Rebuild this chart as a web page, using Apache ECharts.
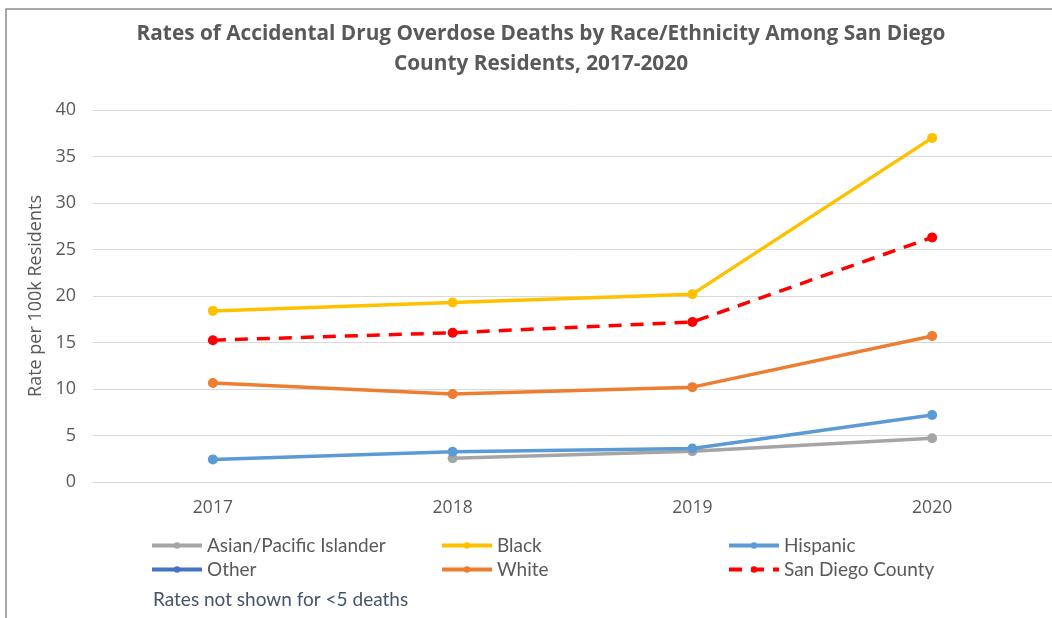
<!DOCTYPE html>
<html><head><meta charset="utf-8">
<script src="https://cdn.jsdelivr.net/npm/echarts@6/dist/echarts.min.js"></script>
<style>html,body{margin:0;padding:0;background:#fff}#c{width:1052px;height:618px}</style>
</head><body><div id="c"></div>
<script>
const years = ['2017','2018','2019','2020'];
const asian = [null, 2.55, 3.3, 4.7];
const black = [18.4, 19.3, 20.2, 37.0];
const hispanic = [2.43, 3.25, 3.6, 7.2];
const other = [null, null, null, null];
const white = [10.65, 9.45, 10.2, 15.7];
const sdCounty = [15.25, 16.05, 17.2, 26.3];
const yTicks = {min: 0, max: 40, interval: 5};

const chart = echarts.init(document.getElementById('c'));
function ser(name, data, color, dashed) {
  return {
    name, type: 'line', data, connectNulls: false,
    symbol: 'circle', symbolSize: 10,
    itemStyle: {color},
    lineStyle: {color, width: 3.5, type: dashed ? [13, 9] : 'solid'},
    emphasis: {disabled: true}
  };
}
const legText = {fontFamily: 'Lato', fontSize: 19, color: '#595959'};
function leg(left, data) {
  return {left, top: 531, orient: 'vertical', itemGap: 5, itemWidth: 50, itemHeight: 8,
    lineStyle: {width: 4}, textStyle: legText, data, selectedMode: false};
}
chart.setOption({
  animation: false,
  title: {
    text: 'Rates of Accidental Drug Overdose Deaths by Race/Ethnicity Among San Diego\nCounty Residents, 2017-2020',
    left: 536, textAlign: 'center', top: 14,
    textStyle: {fontFamily: 'Open Sans', fontWeight: 'bold', fontSize: 20.8, color: '#595959', lineHeight: 30}
  },
  graphic: [
    {type: 'rect', shape: {x: 6, y: 9, width: 1200, height: 800}, style: {fill: 'none', stroke: '#8c8c8c', lineWidth: 1.5}, silent: true},
    {type: 'text', left: 153, top: 590, style: {text: 'Rates not shown for <5 deaths', fill: '#44546A', font: '19px Lato'}}
  ],
  legend: [
    leg(145, ['Asian/Pacific Islander', 'Other']),
    leg(435, ['Black', 'White']),
    leg(722, ['Hispanic', 'San Diego County'])
  ],
  grid: {left: 93, top: 110, width: 960, height: 372},
  xAxis: {
    type: 'category', data: years, boundaryGap: true,
    axisLine: {lineStyle: {color: '#d9d9d9'}}, axisTick: {show: false},
    axisLabel: {fontFamily: 'Open Sans', fontSize: 17.5, color: '#595959', margin: 17}
  },
  yAxis: {
    type: 'value', min: yTicks.min, max: yTicks.max, interval: yTicks.interval,
    name: 'Rate per 100k Residents', nameLocation: 'middle', nameGap: 48, nameRotate: 90,
    nameTextStyle: {fontFamily: 'Open Sans', fontSize: 18, color: '#595959'},
    axisLine: {show: false}, axisTick: {show: false},
    axisLabel: {fontFamily: 'Open Sans', fontSize: 18, color: '#595959', margin: 17},
    splitLine: {lineStyle: {color: '#d9d9d9', width: 1}}
  },
  series: [
    ser('Asian/Pacific Islander', asian, '#A5A5A5'),
    ser('Other', other, '#4472C4'),
    ser('Black', black, '#FFC000'),
    ser('White', white, '#ED7D31'),
    ser('Hispanic', hispanic, '#5B9BD5'),
    ser('San Diego County', sdCounty, '#FF0000', true)
  ]
});
</script></body></html>
